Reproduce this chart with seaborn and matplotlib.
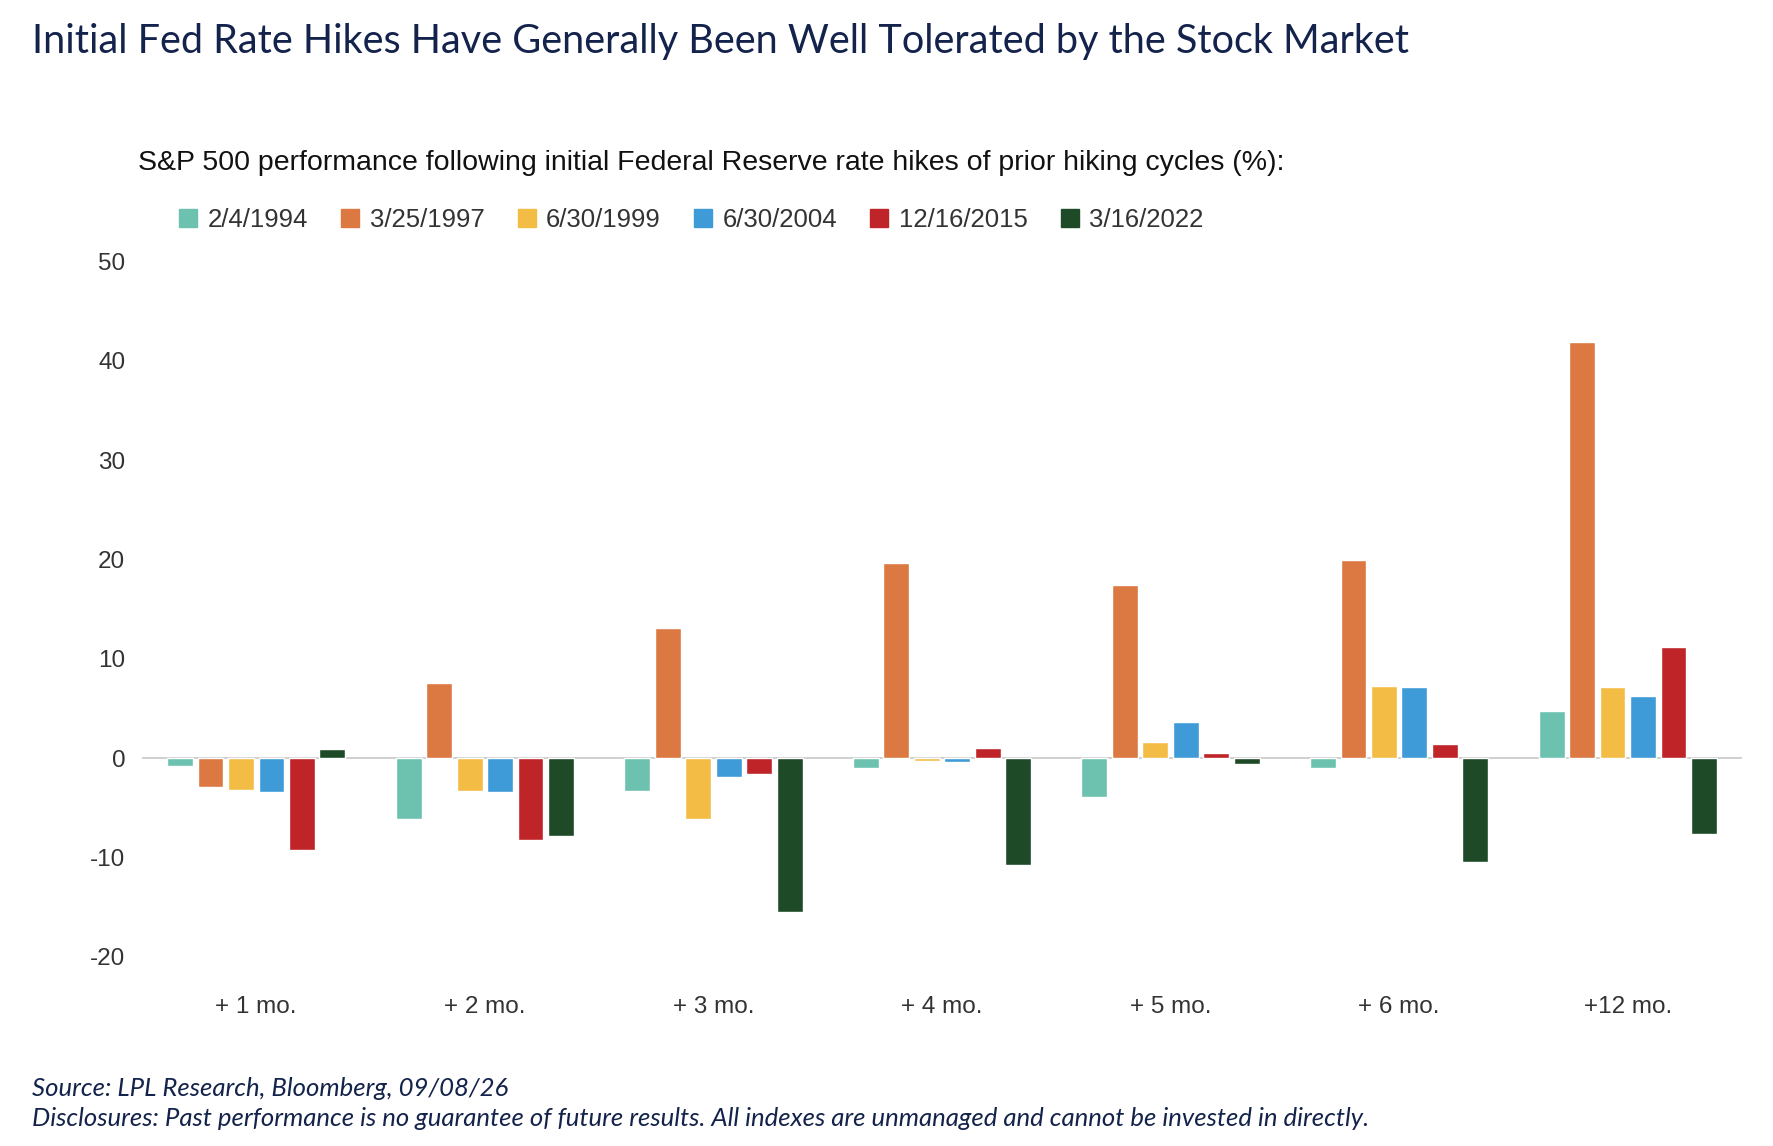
import numpy as np
import pandas as pd
import seaborn as sns
import matplotlib.pyplot as plt

periods = ['+ 1 mo.', '+ 2 mo.', '+ 3 mo.', '+ 4 mo.', '+ 5 mo.', '+ 6 mo.', '+12 mo.']
dates = ['2/4/1994', '3/25/1997', '6/30/1999', '6/30/2004', '12/16/2015', '3/16/2022']
r1994 = [-0.8, -6.1, -3.3, -1.0, -3.9, -1.0, 4.7]
r1997 = [-2.9, 7.6, 13.1, 19.6, 17.4, 19.9, 41.9]
r1999 = [-3.2, -3.3, -6.1, -0.3, 1.6, 7.3, 7.2]
r2004 = [-3.4, -3.4, -1.9, -0.4, 3.6, 7.2, 6.3]
r2015 = [-9.2, -8.2, -1.6, 1.0, 0.5, 1.4, 11.2]
r2022 = [0.9, -7.8, -15.5, -10.8, -0.6, -10.4, -7.6]
colors = ['#6CC2AE', '#DC7842', '#F3BC45', '#3E9BD8', '#BF2428', '#1E4A27']

rows = []
for d, vals in zip(dates, [r1994, r1997, r1999, r2004, r2015, r2022]):
    for p, v in zip(periods, vals):
        rows.append({'period': p, 'date': d, 'value': v})
df = pd.DataFrame(rows)

sns.set_style('white')
plt.rcParams['font.family'] = ['Liberation Sans', 'DejaVu Sans']
plt.rcParams['axes.unicode_minus'] = False

fig = plt.figure(figsize=(17.74, 11.46), dpi=100)
ax = fig.add_axes([0.08, 0.165, 0.902, 0.607])
sns.barplot(data=df, x='period', y='value', hue='date', hue_order=dates,
            palette=colors, saturation=1, width=0.8, gap=0.15, ax=ax, legend=False)
ax.axhline(0, color='#c8c8c8', lw=1.2, zorder=0)
ax.set_ylim(-20, 50)
ax.set_yticks(range(-20, 51, 10))
ax.set_xlabel('')
ax.set_ylabel('')
sns.despine(ax=ax, left=True, bottom=True)
ax.tick_params(axis='both', length=0, labelsize=17.5, colors='#333333')
ax.tick_params(axis='x', pad=28)
ax.tick_params(axis='y', pad=12)

handles = [plt.Rectangle((0, 0), 1, 1, color=c) for c in colors]
fig.legend(handles, dates, loc='center left', bbox_to_anchor=(0.088, 0.808), ncol=6,
           frameon=False, fontsize=18.5, handlelength=0.7, handleheight=0.7,
           handletextpad=0.4, columnspacing=1.3, labelcolor='#333333')

fig.text(0.018, 0.98, 'Initial Fed Rate Hikes Have Generally Been Well Tolerated by the Stock Market',
         fontsize=28.5, color='#14234B', va='top', family=['Lato', 'DejaVu Sans'])
fig.text(0.078, 0.858, 'S&P 500 performance following initial Federal Reserve rate hikes of prior hiking cycles (%):',
         fontsize=20.5, color='#111111', va='center')
fig.text(0.018, 0.05, 'Source: LPL Research, Bloomberg, 09/08/26', fontsize=18.5,
         style='italic', color='#14234B', va='center', family=['Lato', 'DejaVu Sans'])
fig.text(0.018, 0.024, 'Disclosures: Past performance is no guarantee of future results. All indexes are unmanaged and cannot be invested in directly.',
         fontsize=18.5, style='italic', color='#14234B', va='center', family=['Lato', 'DejaVu Sans'])

fig.savefig('out.png', dpi=100)
